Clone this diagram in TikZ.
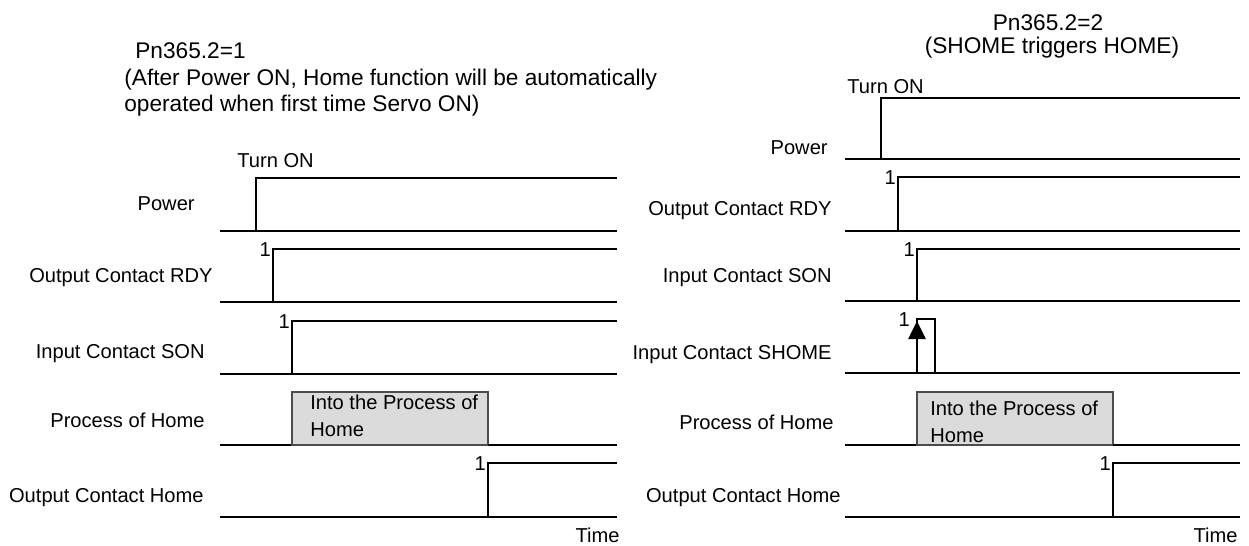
\documentclass[tikz,border=0pt]{standalone}
\usepackage{fontspec}
\setmainfont{Liberation Sans}
\usetikzlibrary{arrows.meta}

\begin{document}
\begin{tikzpicture}[x=0.02cm, y=-0.02cm, >={Triangle[length=0.36cm, width=0.34cm]},
	sig/.style={line width=1.5pt},
	base/.style={line width=0.75pt},
	busy/.style={draw=black!70, line width=0.7pt, fill=black!14},
	lbl/.style={font=\fontsize{11.45}{15.3}\selectfont, anchor=base east, inner sep=0pt},
	ttl/.style={font=\fontsize{12.9}{15}\selectfont, inner sep=0pt},
	one/.style={font=\fontsize{11.45}{13}\selectfont, anchor=east, inner sep=0.5pt}]
	\useasboundingbox (0,0) rectangle (1249,545);

	\node[ttl, anchor=base west] (ttlA) at (135,58) {Pn365.2=1};
	\node[ttl, anchor=base west] (noteA) at (124,85) {(After Power ON, Home function will be automatically};
	\node[ttl, anchor=base west] (noteB) at (124,111) {operated when first time Servo ON)};
	\node[ttl, anchor=base] (ttlB) at (1048,30) {Pn365.2=2};
	\node[ttl, anchor=base] (noteC) at (1052,53) {(SHOME triggers HOME)};

	\node[lbl, anchor=base west] (turnA) at (237,167) {Turn ON};
	\node[lbl] (pwrA) at (195,210) {Power};
	\node[lbl] (rdyA) at (213,282) {Output Contact RDY};
	\node[lbl] (sonA) at (205,358) {Input Contact SON};
	\node[lbl] (procA) at (205,427) {Process of Home};
	\node[lbl] (homeA) at (204,502) {Output Contact Home};
	\node[lbl] (timeA) at (620,542) {Time};

	\draw[sig] (220,231) -- (256,231) -- (256,178) -- (617,178);
	\draw[base] (256,231) -- (617,231);
	\draw[sig] (220,302) -- (273,302) -- (273,249) -- (617,249);
	\draw[base] (273,302) -- (617,302);
	\node[one] (oneA) at (272,250) {1};
	\draw[sig] (220,374) -- (292,374) -- (292,321) -- (617,321);
	\draw[base] (292,374) -- (617,374);
	\node[one] (oneB) at (291,322) {1};
	\draw[sig] (220,445) -- (292,445);
	\draw[busy] (292,392) rectangle (488,445);
	\draw[sig] (488,445) -- (617,445);
	\node[lbl, anchor=north west, align=left] (intoA) at (310,395) {Into the Process of\\Home};
	\draw[sig] (220,517) -- (488,517) -- (488,463) -- (617,463);
	\draw[base] (488,517) -- (617,517);
	\node[one] (oneC) at (487,464) {1};

	\node[lbl, anchor=base west] (turnB) at (847,93) {Turn ON};
	\node[lbl] (pwrB) at (828,154) {Power};
	\node[lbl] (rdyB) at (832,215) {Output Contact RDY};
	\node[lbl] (sonB) at (832,282) {Input Contact SON};
	\node[lbl] (shomeB) at (832,359) {Input Contact SHOME};
	\node[lbl] (procB) at (834,429) {Process of Home};
	\node[lbl] (homeB) at (841,502) {Output Contact Home};
	\node[lbl] (timeB) at (1238,542) {Time};

	\draw[sig] (845,159) -- (881,159) -- (881,98) -- (1240,98);
	\draw[base] (881,159) -- (1240,159);
	\draw[sig] (845,231) -- (898,231) -- (898,177) -- (1240,177);
	\draw[base] (898,231) -- (1240,231);
	\node[one] (oneD) at (897,178) {1};
	\draw[sig] (845,301) -- (917,301) -- (917,249) -- (1240,249);
	\draw[base] (917,301) -- (1240,301);
	\node[one] (oneE) at (916,250) {1};
	\draw[base] (845,373) -- (1240,373);
	\draw[sig] (917,373) -- (917,319) -- (935,319) -- (935,373);
	\draw[sig, ->] (917,360) -- (917,321);
	\node[one] (oneF) at (911,320) {1};
	\draw[sig] (845,445) -- (917,445);
	\draw[busy] (917,392) rectangle (1113,445);
	\draw[sig] (1113,445) -- (1240,445);
	\node[lbl, anchor=north west, align=left] (intoB) at (930,401) {Into the Process of\\Home};
	\draw[sig] (845,517) -- (1113,517) -- (1113,463) -- (1240,463);
	\draw[base] (1113,517) -- (1240,517);
	\node[one] (oneG) at (1112,464) {1};
\end{tikzpicture}
\end{document}
